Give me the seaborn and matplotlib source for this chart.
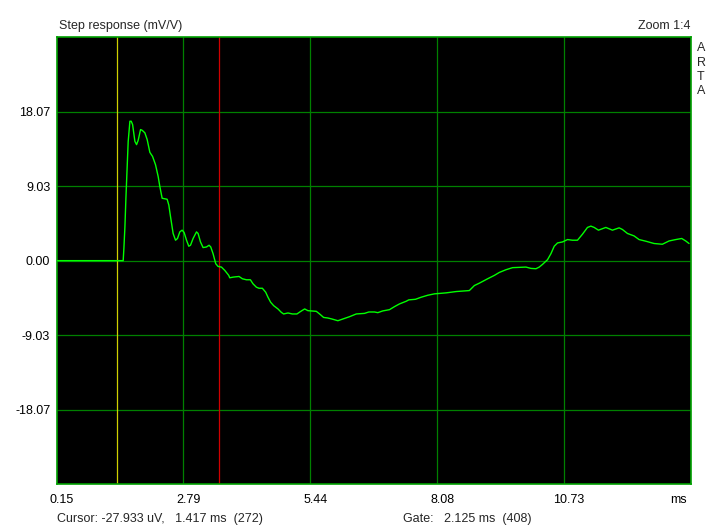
import matplotlib
matplotlib.use("Agg")
import matplotlib.pyplot as plt
import matplotlib.transforms as mtransforms
import seaborn as sns
import pandas as pd

time_ms = [0.15, 1.540, 1.555, 1.576, 1.597, 1.623, 1.644, 1.680, 1.707, 1.736, 1.784, 1.819, 1.852,
           1.902, 1.936, 1.992, 2.040, 2.096, 2.152, 2.214, 2.269, 2.304, 2.352, 2.456, 2.491, 2.527,
           2.581, 2.631, 2.672, 2.720, 2.768, 2.810, 2.860, 2.907, 2.943, 2.997, 3.068, 3.101, 3.151,
           3.205, 3.276, 3.330, 3.365, 3.413, 3.469, 3.517, 3.588, 3.657, 3.740, 3.761, 3.829, 3.954,
           4.025, 4.108, 4.191, 4.246, 4.316, 4.370, 4.441, 4.510, 4.558, 4.614, 4.676, 4.766, 4.837,
           4.884, 4.974, 5.066, 5.161, 5.232, 5.322, 5.390, 5.565, 5.634, 5.717, 5.806, 5.890, 6.015,
           6.119, 6.258, 6.398, 6.570, 6.660, 6.778, 6.847, 6.951, 7.090, 7.195, 7.299, 7.438, 7.492,
           7.632, 7.750, 7.888, 8.027, 8.271, 8.479, 8.755, 8.860, 8.964, 9.136, 9.276, 9.380, 9.519,
           9.656, 9.935, 10.039, 10.143, 10.212, 10.281, 10.385, 10.456, 10.524, 10.593, 10.697,
           10.801, 10.905, 11.009, 11.113, 11.217, 11.288, 11.357, 11.446, 11.600, 11.738, 11.877,
           11.946, 12.050, 12.189, 12.293, 12.433, 12.605, 12.778, 12.918, 13.057, 13.182, 13.265,
           13.334]
response = [0.0, 0.0, 1.54, 4.10, 7.61, 11.51, 14.44, 16.92, 16.92, 16.52, 14.48, 14.08, 14.60,
            15.91, 15.82, 15.51, 14.69, 13.14, 12.65, 11.64, 10.21, 8.99, 7.57, 7.45, 6.75, 5.32,
            3.30, 2.48, 2.69, 3.49, 3.70, 3.42, 2.48, 1.75, 1.87, 2.69, 3.49, 3.30, 2.27,
            1.59, 1.66, 1.87, 1.66, 0.85, -0.37, -0.70, -0.78, -1.18, -1.79, -2.08, -2.00, -1.92,
            -2.20, -2.32, -2.32, -2.81, -3.22, -3.35, -3.35, -3.83, -4.44, -5.05, -5.46, -5.86, -6.28,
            -6.47, -6.35, -6.47, -6.47, -6.19, -5.86, -6.07, -6.15, -6.47, -6.89, -6.96, -7.08, -7.29,
            -7.08, -6.80, -6.47, -6.40, -6.23, -6.23, -6.31, -6.10, -5.95, -5.58, -5.25, -4.93, -4.76,
            -4.69, -4.44, -4.20, -4.03, -3.91, -3.75, -3.63, -3.02, -2.73, -2.20, -1.79, -1.43, -1.10,
            -0.85, -0.78, -0.94, -0.98, -0.78, -0.45, 0.12, 0.85, 1.75, 2.15, 2.27,
            2.56, 2.48, 2.48, 3.21, 4.03, 4.19, 4.03, 3.70, 4.03, 3.70, 3.98,
            3.78, 3.30, 3.00, 2.56, 2.36, 2.08, 1.99, 2.39, 2.56, 2.69, 2.39,
            2.08]

x_ticks = [0.15, 2.795, 5.44, 8.085, 10.73, 13.375]
x_tick_labels = ["0.15", "2.79", "5.44", "8.08", "10.73", "ms"]
y_ticks = [-27.105, -18.07, -9.035, 0.0, 9.035, 18.07, 27.105]
y_tick_labels = ["", "-18.07", "-9.03", "0.00", "9.03", "18.07", ""]
cursor_ms = 1.417
gate_ms = 3.542

sns.set_style("dark", {"axes.facecolor": "black"})
plt.rcParams["font.family"] = ["Liberation Sans", "DejaVu Sans"]

fig = plt.figure(figsize=(7.12, 5.29), dpi=100, facecolor="white")
ax = fig.add_axes([56.5 / 712, 1 - 484 / 529, (691 - 56.5) / 712, (484 - 37.3) / 529])
ax.set_facecolor("black")

df = pd.DataFrame({"t": time_ms, "v": response})

for xt in x_ticks[1:-1]:
    ax.axvline(xt, color="#008000", lw=0.9, zorder=1)
for yt in y_ticks[1:-1]:
    ax.axhline(yt, color="#008000", lw=0.9, zorder=1)
ax.axvline(cursor_ms, color="#d0d000", lw=0.9, zorder=2)
ax.axvline(gate_ms, color="#d00000", lw=0.9, zorder=2)

sns.lineplot(data=df, x="t", y="v", ax=ax, color="#00ff00", lw=1.0, zorder=3, estimator=None, sort=False)

fs = 9
ax.set_xlim(x_ticks[0], x_ticks[-1])
ax.set_ylim(y_ticks[0], y_ticks[-1])
ax.set_xticks(x_ticks)
ax.set_xticklabels(x_tick_labels)
ax.set_yticks(y_ticks)
ax.set_yticklabels(y_tick_labels)
ax.tick_params(axis="both", length=0, labelsize=fs, colors="black")
ax.tick_params(axis="x", pad=7.5)
ax.tick_params(axis="y", pad=4.5)
ax.set_xlabel("")
ax.set_ylabel("")
ax.grid(False)
for s in ax.spines.values():
    s.set_visible(True)
    s.set_color("#00a000")
    s.set_linewidth(1.2)

labels = ax.get_xticklabels()
for i, lab in enumerate(labels):
    dx = 5 if i < len(labels) - 1 else -13
    lab.set_transform(lab.get_transform() + mtransforms.ScaledTranslation(dx / 100, 0, fig.dpi_scale_trans))

fig.text(59 / 712, 1 - 26 / 529, "Step response (mV/V)", fontsize=fs, ha="left", va="center")
fig.text(691 / 712, 1 - 26 / 529, "Zoom 1:4", fontsize=fs, ha="right", va="center")
for i, ch in enumerate("ARTA"):
    fig.text(701 / 712, 1 - (48 + 14.5 * i) / 529, ch, fontsize=fs, ha="center", va="center")
fig.text(57 / 712, 1 - 519 / 529, "Cursor: -27.933 uV,   1.417 ms  (272)", fontsize=fs, ha="left", va="center")
fig.text(403 / 712, 1 - 519 / 529, "Gate:   2.125 ms  (408)", fontsize=fs, ha="left", va="center")

fig.savefig("out.png", dpi=100, facecolor="white")
